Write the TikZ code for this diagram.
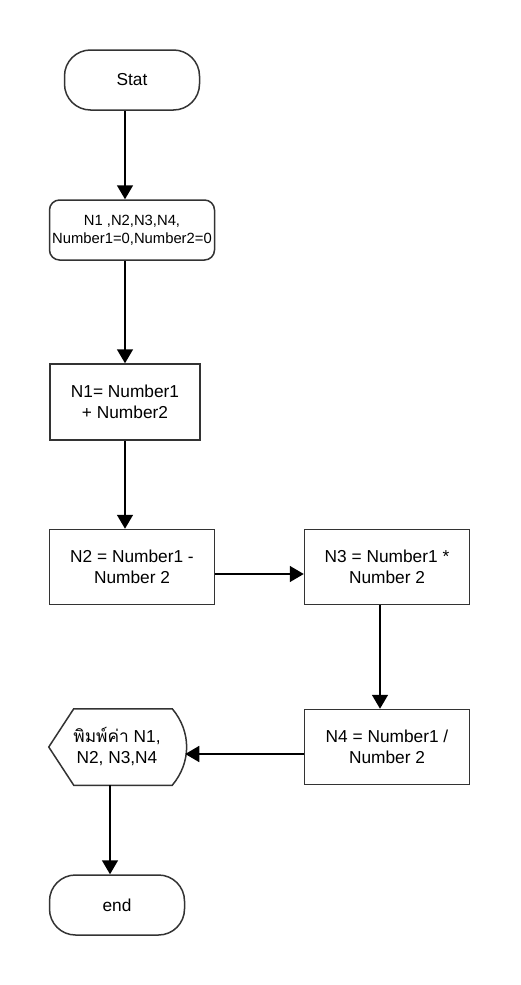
\documentclass[tikz,border=0pt]{standalone}
\usepackage{fontspec}
\setmainfont{Liberation Sans}
\newfontfamily\thaifont[Script=Thai]{Loma}
\usetikzlibrary{
	arrows.meta,
	positioning
}
\definecolor{boxline}{HTML}{333333}

\begin{document}
\begin{tikzpicture}[x=1pt, y=-1pt, >={Triangle[length=14pt,width=16pt]},
	box/.style={draw=boxline, line width=1.5pt, rectangle, align=center,
		font=\fontsize{17.3}{21}\selectfont},
	terminal/.style={box, rounded corners=26pt, minimum width=135pt, minimum height=60pt},
	flow/.style={->, line width=1.6pt, black}]
		\useasboundingbox (0,0) rectangle (520,985);
		
		\node[terminal] (start) at (132,80) {Stat};
		\node[box, rounded corners=10pt, minimum width=165pt, minimum height=60pt,
			font=\fontsize{14.8}{18}\selectfont, inner sep=1pt] (init) at (132,230) {N1 ,N2,N3,N4,\\Number1=0,Number2=0};
		\node[box, minimum width=150pt, minimum height=76pt] (n1) at (125,402) {N1= Number1\\+ Number2};
		\node[box, minimum width=165pt, minimum height=75pt] (n2) at (132,567) {N2 = Number1 -\\Number 2};
		\node[box, minimum width=165pt, minimum height=75pt] (n3) at (387,567) {N3 = Number1 *\\Number 2};
		\node[box, minimum width=165pt, minimum height=75pt] (n4) at (387,747) {N4 = Number1 /\\Number 2};
		\node[box, draw=none, minimum width=135pt, minimum height=75pt] (show) at (117,747) {{\thaifont พิมพ์ค่า} N1,\\N2, N3,N4};
		\draw[boxline, line width=1.5pt] (show.west) -- ([xshift=25]show.north west) -- ([xshift=-13]show.north east)
			to[bend left=40] ([xshift=-13]show.south east) -- ([xshift=25]show.south west) -- cycle;
		\node[terminal] (stop) at (117,905) {end};
		
		% Arrows
		\draw[flow] (start.south -| n1) -- (init.north -| n1);
		\draw[flow] (init.south -| n1) -- (n1.north);
		\draw[flow] (n1.south) -- (n2.north -| n1);
		\draw[flow] ([yshift=-7]n2.east) -- ([yshift=-7]n3.west);
		\draw[flow] ([xshift=-7]n3.south) -- ([xshift=-7]n4.north);
		\draw[flow] ([yshift=-7]n4.west) -- ([yshift=-7]show.east);
		\draw[flow] ([xshift=-7]show.south) -- ([xshift=-7]stop.north);
		
	\end{tikzpicture}
\end{document}
